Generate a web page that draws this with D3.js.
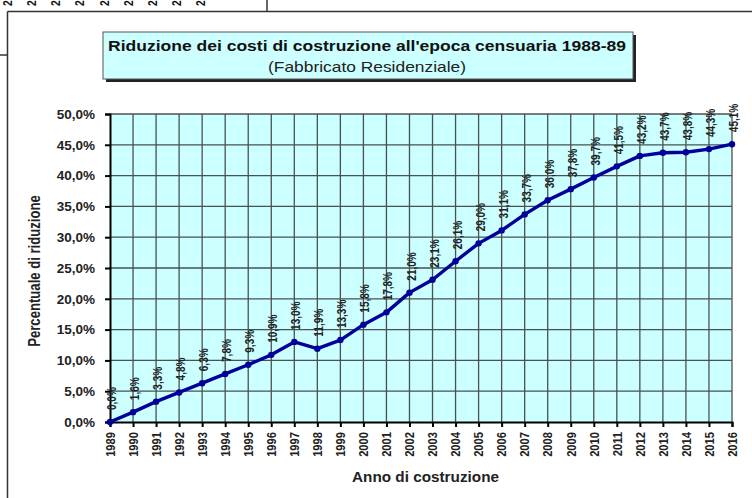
<!DOCTYPE html>
<html><head><meta charset="utf-8">
<script src="https://cdn.jsdelivr.net/npm/d3@7"></script>
<style>body{margin:0;background:#fff}svg{display:block;font-family:"Liberation Sans",Arial,sans-serif}</style>
</head><body><svg id="c" width="752" height="498"></svg>
<script>
const years = [1989,1990,1991,1992,1993,1994,1995,1996,1997,1998,1999,2000,2001,2002,2003,2004,2005,2006,2007,2008,2009,2010,2011,2012,2013,2014,2015,2016];
const values = [0.0,1.6,3.3,4.8,6.3,7.8,9.3,10.9,13.0,11.9,13.3,15.8,17.8,21.0,23.1,26.1,29.0,31.1,33.7,36.0,37.8,39.7,41.5,43.2,43.7,43.8,44.3,45.1];
const yTicks = [0,5,10,15,20,25,30,35,40,45,50];
const titleText = "Riduzione dei costi di costruzione all'epoca censuaria 1988-89";
const subtitleText = "(Fabbricato Residenziale)";
const yTitle = "Percentuale di riduzione";
const xTitle = "Anno di costruzione";
const topCutLabels = ["2008","2009","2010","2011","2012","2013","2014","2015","2016"];

const svg = d3.select("#c");
const fmt = v => v.toFixed(1).replace(".", ",") + "%";

// fragments of surrounding sheet
const frame = svg.append("g").attr("stroke","#333").attr("stroke-width",1.5).attr("fill","none");
frame.append("line").attr("x1",7.5).attr("x2",752).attr("y1",11.5).attr("y2",11.5);
frame.append("line").attr("x1",267).attr("x2",267).attr("y1",0).attr("y2",11.5);
frame.append("line").attr("x1",7.5).attr("x2",7.5).attr("y1",11.5).attr("y2",498);
frame.append("line").attr("x1",0).attr("x2",7.5).attr("y1",55).attr("y2",55);
const topX = d3.scalePoint().domain(topCutLabels).range([8,201]);
svg.append("g").selectAll("text").data(topCutLabels).join("text")
  .attr("transform", d => `translate(${topX(d)+4},6) rotate(-90) scale(0.85,1)`)
  .attr("font-size",12).attr("font-weight","bold").attr("fill","#111")
  .text(d => d);

// scales
const x = d3.scalePoint().domain(years).range([110,732]);
const y = d3.scaleLinear().domain([0,50]).range([422,114]);

// plot background
svg.append("rect").attr("x",110).attr("y",114).attr("width",622).attr("height",308).attr("fill","#ccffff");

// grid
const grid = svg.append("g").attr("stroke","#333").attr("stroke-width",1.3).attr("opacity",0.85);
grid.selectAll("line.v").data(years.slice(1)).join("line").attr("class","v")
  .attr("x1",d=>x(d)).attr("x2",d=>x(d)).attr("y1",y(50)).attr("y2",y(0));
grid.selectAll("line.h").data(yTicks.slice(1)).join("line").attr("class","h")
  .attr("y1",d=>y(d)).attr("y2",d=>y(d)).attr("x1",x(1989)).attr("x2",x(2016));

// axes
const yAxis = svg.append("g").attr("transform","translate(110,0)")
  .call(d3.axisLeft(y).tickValues(yTicks).tickFormat(fmt).tickSize(5).tickPadding(10));
yAxis.select(".domain").attr("stroke","#000").attr("stroke-width",2);
yAxis.selectAll(".tick line").attr("stroke","#000").attr("stroke-width",2);
yAxis.selectAll(".tick text").attr("font-size",13.5).attr("font-weight","bold").attr("fill","#222")
  .attr("font-family","Liberation Sans, Arial, sans-serif");

const xAxis = svg.append("g").attr("transform","translate(0,422)")
  .call(d3.axisBottom(x).tickSize(5).tickFormat(d=>String(d)));
xAxis.select(".domain").attr("stroke","#000").attr("stroke-width",2);
xAxis.selectAll(".tick line").attr("stroke","#000").attr("stroke-width",2);
xAxis.selectAll(".tick text")
  .attr("font-size",13).attr("font-weight","bold").attr("fill","#222")
  .attr("font-family","Liberation Sans, Arial, sans-serif")
  .attr("text-anchor","end").attr("dy",null).attr("y",null)
  .attr("dominant-baseline","central")
  .attr("transform","translate(0,10) rotate(-90) scale(0.86,1)");

// line
svg.append("path").datum(years.map((d,i)=>[d,values[i]]))
  .attr("fill","none").attr("stroke","#00009a").attr("stroke-width",3.4).attr("stroke-linejoin","round")
  .attr("d", d3.line().x(d=>x(d[0])).y(d=>y(d[1])));
svg.append("g").selectAll("circle").data(years).join("circle")
  .attr("cx",d=>x(d)).attr("cy",(d,i)=>y(values[i])).attr("r",3.2).attr("fill","#00009a");

// data labels
svg.append("g").selectAll("text").data(years).join("text")
  .attr("transform",(d,i)=>`translate(${x(d)+1},${y(values[i])-12}) rotate(-90) scale(0.77,1)`)
  .attr("dominant-baseline","central")
  .attr("font-size",13).attr("font-weight","bold").attr("fill","#222")
  .text((d,i)=>fmt(values[i]));

// axis titles
svg.append("text").attr("transform","translate(35,271) rotate(-90) scale(0.82,1)")
  .attr("text-anchor","middle").attr("dominant-baseline","central")
  .attr("font-size",16).attr("font-weight","bold").attr("fill","#222").text(yTitle);
svg.append("text").attr("x",425.5).attr("y",482).attr("text-anchor","middle")
  .attr("font-size",15).attr("font-weight","bold").attr("fill","#222")
  .attr("textLength",147).attr("lengthAdjust","spacingAndGlyphs").text(xTitle);

// title box
svg.append("rect").attr("x",106).attr("y",35).attr("width",530).attr("height",47).attr("fill","#222");
svg.append("rect").attr("x",103).attr("y",32).attr("width",530).attr("height",47)
  .attr("fill","#ccffff").attr("stroke","#555").attr("stroke-width",1);
svg.append("text").attr("x",367).attr("y",51).attr("text-anchor","middle")
  .attr("font-size",15).attr("font-weight","bold").attr("fill","#111")
  .attr("textLength",518).attr("lengthAdjust","spacingAndGlyphs").text(titleText);
svg.append("text").attr("x",367).attr("y",72).attr("text-anchor","middle")
  .attr("font-size",15).attr("fill","#222")
  .attr("textLength",198).attr("lengthAdjust","spacingAndGlyphs").text(subtitleText);
</script></body></html>
